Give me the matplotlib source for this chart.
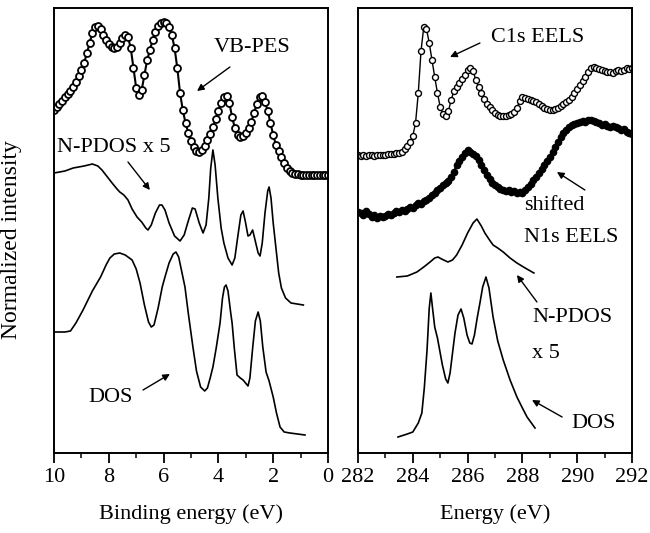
import numpy as np
import matplotlib
matplotlib.use("Agg")
import matplotlib.pyplot as plt
from matplotlib.ticker import MultipleLocator

plt.rcParams['font.family'] = ['Liberation Serif', 'DejaVu Serif']
plt.rcParams['font.size'] = 16

# ---- left panel: valence band (binding energy, eV) ----
vb_pes_e = np.round(np.arange(10.0, -0.05, -0.1), 1)
vb_pes_y = [343, 346, 349, 352, 356, 359, 362, 366, 371, 377,
            383, 390, 400, 410, 420, 426, 427, 424, 418, 413,
            409, 406, 405, 406, 410, 415, 418, 416, 405, 385,
            365, 358, 363, 378, 393, 403, 413, 421, 427, 430,
            431, 430, 426, 418, 405, 385, 360, 343, 330, 320,
            312, 306, 302, 301, 303, 307, 313, 319, 326, 334,
            342, 350, 356, 357, 350, 336, 325, 318, 316, 317,
            320, 325, 331, 340, 349, 356, 357, 351, 342, 330,
            318, 308, 302, 296, 290, 285, 282, 280, 279, 279,
            278, 278, 278, 278, 278, 278, 278, 278, 278, 278, 278]

npdos_l_e = [10.0, 9.6, 9.3, 8.9, 8.6, 8.4, 8.25, 8.05, 7.88, 7.7, 7.6, 7.45,
             7.3, 7.15, 6.97, 6.8, 6.65, 6.57, 6.45, 6.3, 6.15, 6.06, 5.95, 5.8,
             5.6, 5.4, 5.25, 5.1, 4.95, 4.85, 4.7, 4.56, 4.45, 4.35, 4.28, 4.2,
             4.12, 4.02, 3.9, 3.8, 3.65, 3.5, 3.4, 3.3, 3.18, 3.1, 3.02, 2.92,
             2.85, 2.75, 2.68, 2.55, 2.48, 2.4, 2.3, 2.2, 2.15, 2.08, 2.0, 1.92,
             1.8, 1.7, 1.55, 1.35, 0.9]
npdos_l_y = [280, 282, 285, 287, 289, 287, 283, 276, 270, 264, 261, 258,
             253, 244, 236, 231, 225, 223, 228, 240, 248, 248, 243, 230,
             217, 212, 218, 232, 245, 244, 230, 220, 228, 255, 285, 303,
             288, 255, 225, 210, 195, 188, 195, 215, 238, 242, 232, 217,
             218, 223, 215, 200, 197, 210, 240, 262, 266, 255, 230, 210,
             180, 165, 155, 150, 148]

dos_l_e = [10.0, 9.6, 9.4, 9.2, 8.94, 8.6, 8.3, 8.1, 7.96, 7.8, 7.6, 7.4,
           7.15, 7.0, 6.86, 6.7, 6.55, 6.45, 6.35, 6.2, 6.05, 5.95, 5.8, 5.65,
           5.55, 5.45, 5.35, 5.22, 5.1, 4.93, 4.8, 4.65, 4.5, 4.4, 4.3, 4.2,
           4.08, 3.94, 3.85, 3.78, 3.72, 3.65, 3.55, 3.5, 3.42, 3.32, 3.2, 3.1,
           2.98, 2.92, 2.85, 2.75, 2.65, 2.55, 2.47, 2.38, 2.26, 2.15, 2.0, 1.88,
           1.75, 1.6, 1.39, 0.84]
dos_l_y = [121, 121, 122, 130, 143, 162, 176, 188, 195, 199, 200, 198,
           193, 184, 170, 148, 131, 126, 128, 145, 166, 176, 190, 199,
           201, 196, 183, 166, 140, 106, 82, 66, 62, 65, 75, 86,
           105, 130, 155, 166, 168, 162, 140, 130, 105, 78, 75, 73,
           69, 67, 75, 105, 132, 141, 132, 106, 81, 72, 56, 40,
           26, 21, 20, 18]

# ---- right panel: core-level edges (energy, eV) ----
c1s_e = np.round(np.arange(282.0, 292.05, 0.1), 1)
c1s_y = [298, 297, 298, 297, 298, 298, 297, 298, 298, 298,
         298, 299, 299, 299, 300, 300, 301, 304, 307, 311,
         317, 330, 360, 402, 426, 424, 410, 393, 376, 360,
         346, 339, 337, 342, 353, 362, 366, 370, 374, 378,
         383, 385, 382, 373, 366, 360, 354, 349, 346, 343,
         340, 338, 337, 337, 337, 338, 339, 341, 345, 352,
         356, 355, 354, 353, 352, 351, 349, 347, 345, 344,
         343, 343, 344, 345, 347, 349, 351, 353, 356, 360,
         364, 368, 372, 376, 381, 385, 386, 385, 384, 383,
         382, 381, 381, 380, 382, 383, 382, 383, 385, 384, 385]

n1s_e = np.round(np.arange(282.0, 292.05, 0.1), 1)
n1s_y = [241, 240, 238, 242, 239, 236, 238, 235, 237, 236,
         237, 239, 238, 240, 242, 241, 243, 242, 244, 246,
         245, 248, 250, 249, 252, 253, 255, 258, 260, 263,
         265, 268, 270, 272, 276, 281, 288, 292, 296, 300,
         303, 301, 299, 297, 293, 288, 283, 278, 274, 270,
         268, 266, 264, 263, 262, 263, 261, 262, 260, 261,
         260, 263, 266, 269, 273, 276, 280, 284, 288, 292,
         296, 301, 306, 311, 316, 320, 323, 326, 328, 329,
         330, 331, 332, 331, 333, 333, 332, 331, 330, 328,
         329, 327, 326, 327, 326, 325, 323, 324, 321, 320, 319]

npdos_r_e = [283.42, 283.8, 284.15, 284.4, 284.63, 284.8, 284.92, 285.05, 285.28,
             285.45, 285.6, 285.8, 286.0, 286.2, 286.34, 286.5, 286.63, 286.8,
             286.93, 287.1, 287.3, 287.55, 287.8, 288.1, 288.42]
npdos_r_y = [176, 177, 181, 186, 191, 195, 196, 194, 191,
             193, 198, 208, 220, 230, 234, 227, 220, 213,
             208, 205, 201, 195, 190, 185, 180]

dos_r_e = [283.46, 283.8, 284.0, 284.2, 284.33, 284.42, 284.52, 284.6, 284.66,
           284.72, 284.8, 284.9, 284.96, 285.08, 285.2, 285.28, 285.36, 285.45,
           285.54, 285.65, 285.76, 285.86, 285.98, 286.08, 286.16, 286.25, 286.35,
           286.45, 286.55, 286.67, 286.78, 286.93, 287.1, 287.3, 287.55, 287.8,
           288.0, 288.17, 288.46]
dos_r_y = [16, 19, 21, 30, 40, 65, 103, 145, 160,
           145, 126, 115, 106, 88, 74, 70, 80, 100,
           120, 138, 144, 135, 118, 110, 109, 118, 135,
           150, 166, 176, 165, 136, 112, 93, 73, 56,
           45, 36, 25]

W, H = 650, 533
fig = plt.figure(figsize=(W / 100, H / 100), dpi=100)
axL = fig.add_axes([54 / W, 80 / H, 274 / W, 445 / H])
axR = fig.add_axes([358 / W, 80 / H, 274 / W, 445 / H])

line_kw = dict(color='black', lw=1.2)
axL.plot(vb_pes_e, vb_pes_y, color='black', lw=1.5, marker='o', ms=5.0,
         mfc='white', mec='black', mew=1.3)
axL.plot(npdos_l_e, npdos_l_y, **line_kw)
axL.plot(dos_l_e, dos_l_y, **line_kw)

axR.plot(c1s_e, c1s_y, color='black', lw=1.0, marker='o', ms=4.3, mfc='white',
         mec='black', mew=1.0)
axR.plot(n1s_e, n1s_y, color='black', lw=1.5, marker='o', ms=4.5, mfc='black',
         mec='black')
axR.plot(npdos_r_e, npdos_r_y, **line_kw)
axR.plot(dos_r_e, dos_r_y, **line_kw)

axL.set_xlim(10, 0)
axR.set_xlim(282, 292)
for ax in (axL, axR):
    ax.set_ylim(0, 445)
    ax.set_yticks([])
    ax.xaxis.set_major_locator(MultipleLocator(2))
    ax.xaxis.set_minor_locator(MultipleLocator(1))
    ax.tick_params(axis='x', which='major', direction='out', length=7, width=1.3,
                   pad=4, labelsize=16)
    ax.tick_params(axis='x', which='minor', direction='out', length=3.5, width=1.1)
    for s in ax.spines.values():
        s.set_linewidth(1.4)

axL.set_xlabel('Binding energy (eV)', fontsize=16, labelpad=12)
axR.set_xlabel('Energy (eV)', fontsize=16, labelpad=12)
axL.set_ylabel('Normalized intensity', fontsize=17)
axL.yaxis.set_label_coords(-0.118, 0.48)

arr = dict(arrowstyle='-|>', color='black', lw=1.0, mutation_scale=10,
           shrinkA=0, shrinkB=0)

axL.text(2.77, 406, 'VB-PES', ha='center', va='center')
axL.annotate('', xy=(4.78, 362), xytext=(3.58, 386), arrowprops=arr)
axL.text(7.81, 305, 'N-PDOS x 5', ha='center', va='center')
axL.annotate('', xy=(6.5, 263), xytext=(7.3, 291), arrowprops=arr)
axL.text(7.92, 55, 'DOS', ha='center', va='center')
axL.annotate('', xy=(5.77, 79), xytext=(6.75, 63), arrowprops=arr)

axR.text(288.57, 415, 'C1s EELS', ha='center', va='center')
axR.annotate('', xy=(285.36, 396), xytext=(286.45, 410), arrowprops=arr)
axR.text(289.15, 248, 'shifted', ha='center', va='center')
axR.annotate('', xy=(289.26, 281), xytext=(290.28, 263), arrowprops=arr)
axR.text(289.77, 215, 'N1s EELS', ha='center', va='center')
axR.text(289.81, 135, 'N-PDOS', ha='center', va='center')
axR.text(288.35, 100, 'x 5', ha='left', va='center')
axR.annotate('', xy=(287.8, 178), xytext=(288.53, 151), arrowprops=arr)
axR.text(290.6, 30, 'DOS', ha='center', va='center')
axR.annotate('', xy=(288.35, 53), xytext=(289.45, 36), arrowprops=arr)

fig.savefig('out.png', dpi=100)
